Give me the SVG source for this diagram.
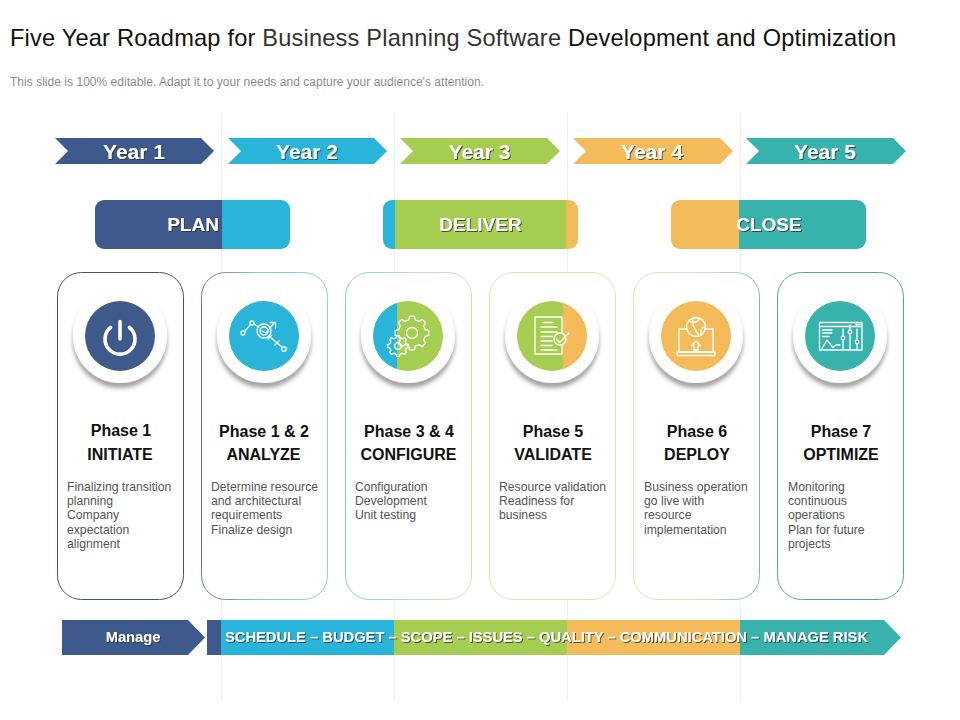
<svg xmlns="http://www.w3.org/2000/svg" xmlns:xlink="http://www.w3.org/1999/xlink" width="960" height="720" viewBox="0 0 960 720">
<style>
text{font-family:"Liberation Sans",Arial,sans-serif}
.title{font-size:23.6px;fill:#111}
.sub{font-size:12px;fill:#8c8c8c}
.yr{font-size:21px;font-weight:700;fill:#fff;text-anchor:middle;filter:url(#ts)}
.band{font-size:19px;font-weight:700;fill:#fff;text-anchor:middle;filter:url(#ts)}
.strip{font-size:14.7px;font-weight:700;fill:#fff;filter:url(#ts)}
.ph{font-size:16px;font-weight:700;fill:#111;text-anchor:middle}
.body{font-size:12.2px;fill:#555}
.navy{fill:#3e5a8c}.blue{fill:#29b4d9}.green{fill:#a5cd52}.orange{fill:#f4bb5a}.teal{fill:#38b2ac}
.grid{stroke:#efefef;stroke-width:1;fill:none}
.card{fill:#fff;stroke-width:1}
.halo{fill:#fff;filter:url(#hs)}
.ic{fill:none;stroke:#fff;stroke-width:1.3;stroke-linecap:round;stroke-linejoin:round}
</style>
<defs>
<filter id="ts" x="-10%" y="-30%" width="120%" height="170%"><feDropShadow dx="1" dy="1" stdDeviation="0.6" flood-color="#333" flood-opacity="0.8"/></filter>
<filter id="hs" x="-30%" y="-30%" width="160%" height="160%"><feDropShadow dx="0" dy="5" stdDeviation="2" flood-color="#666" flood-opacity="0.6"/></filter>
<linearGradient id="b1"><stop offset="0" stop-color="#44546a"/><stop offset="1" stop-color="#44546a"/></linearGradient>
<linearGradient id="b2"><stop offset="0" stop-color="#5f7890"/><stop offset="0.45" stop-color="#8fc4d8"/><stop offset="1" stop-color="#8fd0e2"/></linearGradient>
<linearGradient id="b3"><stop offset="0" stop-color="#7fcbe0"/><stop offset="0.5" stop-color="#b8dccc"/><stop offset="1" stop-color="#d9dcae"/></linearGradient>
<linearGradient id="b4"><stop offset="0" stop-color="#dcdcb0"/><stop offset="1" stop-color="#efdcb4"/></linearGradient>
<linearGradient id="b5"><stop offset="0" stop-color="#efdcb4"/><stop offset="0.6" stop-color="#d8dcc0"/><stop offset="1" stop-color="#72bdb8"/></linearGradient>
<linearGradient id="b6"><stop offset="0" stop-color="#4fa8a3"/><stop offset="1" stop-color="#4fa8a3"/></linearGradient>
<clipPath id="cPlan"><rect x="95" y="200" width="195" height="49" rx="9"/></clipPath>
<clipPath id="cDeliver"><rect x="383" y="200" width="195" height="49" rx="9"/></clipPath>
<clipPath id="cClose"><rect x="671" y="200" width="195" height="49" rx="9"/></clipPath>
<clipPath id="c3"><circle cx="408" cy="336" r="35"/></clipPath>
<clipPath id="c4"><circle cx="552" cy="336" r="35"/></clipPath>
<path id="gear" d="M13.1-3.3L16.8-2.4L16.8 2.4L13.1 3.3L11.6 6.9L13.6 10.2L10.2 13.6L6.9 11.6L3.3 13.1L2.4 16.8L-2.4 16.8L-3.3 13.1L-6.9 11.6L-10.2 13.6L-13.6 10.2L-11.6 6.9L-13.1 3.3L-16.8 2.4L-16.8-2.4L-13.1-3.3L-11.6-6.9L-13.6-10.2L-10.2-13.6L-6.9-11.6L-3.3-13.1L-2.4-16.8L2.4-16.8L3.3-13.1L6.9-11.6L10.2-13.6L13.6-10.2L11.6-6.9Z"/>
</defs>
<rect width="960" height="720" fill="#fff"/>

<g id="connectors">
<path class="grid" d="M221.5 112V700M394.5 112V700M567.5 112V700M740.5 112V700"/>
</g>

<g id="header">
<text class="title" x="10" y="46" textLength="886" lengthAdjust="spacing">Five Year Roadmap for <tspan fill="#333">Business Planning Software</tspan> Development and Optimization</text>
<text class="sub" x="10" y="86" textLength="474" lengthAdjust="spacing">This slide is 100% editable. Adapt it to your needs and capture your audience's attention.</text>
</g>

<g id="year-1"><polygon class="navy" points="55,138 201,138 214,151 201,164 55,164 68,151"/><text class="yr" x="134" y="159">Year 1</text></g>
<g id="year-2"><polygon class="blue" points="228,138 374,138 387,151 374,164 228,164 241,151"/><text class="yr" x="307" y="159">Year 2</text></g>
<g id="year-3"><polygon class="green" points="400,138 547,138 560,151 547,164 400,164 413,151"/><text class="yr" x="479.5" y="159">Year 3</text></g>
<g id="year-4"><polygon class="orange" points="573,138 720,138 733,151 720,164 573,164 586,151"/><text class="yr" x="652" y="159">Year 4</text></g>
<g id="year-5"><polygon class="teal" points="746,138 893,138 906,151 893,164 746,164 759,151"/><text class="yr" x="825" y="159">Year 5</text></g>

<g id="band-plan"><g clip-path="url(#cPlan)"><rect class="navy" x="95" y="200" width="127" height="49"/><rect class="blue" x="222" y="200" width="68" height="49"/></g><text class="band" x="193" y="231">PLAN</text></g>
<g id="band-deliver"><g clip-path="url(#cDeliver)"><rect class="blue" x="383" y="200" width="12" height="49"/><rect class="green" x="395" y="200" width="171" height="49"/><rect class="orange" x="566" y="200" width="12" height="49"/></g><text class="band" x="480.5" y="231">DELIVER</text></g>
<g id="band-close"><g clip-path="url(#cClose)"><rect class="orange" x="671" y="200" width="68" height="49"/><rect class="teal" x="739" y="200" width="127" height="49"/></g><text class="band" x="769" y="231">CLOSE</text></g>

<g id="card-initiate">
<rect class="card" x="57.5" y="272.5" width="126" height="327" rx="24" stroke="url(#b1)"/>
<circle class="halo" cx="120" cy="336" r="47"/><circle class="navy" cx="120" cy="336" r="35"/>
<path d="M110.5 327.500A15 15 0 1 0 129.500 327.500M120 321.500V339" fill="none" stroke="#fff" stroke-width="3.6" stroke-linecap="round"/>
<text class="ph" x="121" y="436">Phase 1</text><text class="ph" x="120" y="460">INITIATE</text>
<text class="body"><tspan x="67" y="491">Finalizing transition</tspan><tspan x="67" y="505">planning</tspan><tspan x="67" y="519">Company</tspan><tspan x="67" y="534">expectation</tspan><tspan x="67" y="548">alignment</tspan></text>
</g>

<g id="card-analyze">
<rect class="card" x="201.5" y="272.5" width="126" height="327" rx="24" stroke="url(#b2)"/>
<circle class="halo" cx="264" cy="336" r="47"/><circle class="blue" cx="264" cy="336" r="35"/>
<g class="ic"><circle cx="243" cy="333" r="2"/><circle cx="252" cy="323" r="2"/><circle cx="264" cy="331" r="7"/><circle cx="264" cy="331" r="4"/><circle cx="284" cy="349" r="2.2"/>
<path d="M244.500 331.500L250.500 324.500M254 324L258 326.500M262 331L266 333L274 323M270 322.500H275.500V328M269.500 336.500L282.500 347.500M268 339L271.500 335.500M275 345L279 341"/></g>
<text class="ph" x="264" y="437">Phase 1 &amp; 2</text><text class="ph" x="263.500" y="460">ANALYZE</text>
<text class="body"><tspan x="211" y="491">Determine resource</tspan><tspan x="211" y="505">and architectural</tspan><tspan x="211" y="519">requirements</tspan><tspan x="211" y="534">Finalize design</tspan></text>
</g>

<g id="card-configure">
<rect class="card" x="345.5" y="272.5" width="126" height="327" rx="24" stroke="url(#b3)"/>
<circle class="halo" cx="408" cy="336" r="47"/>
<g clip-path="url(#c3)"><rect class="blue" x="373" y="301" width="24" height="70"/><rect class="green" x="397" y="301" width="46" height="70"/></g>
<g class="ic"><use href="#gear" transform="translate(412 333)"/><circle cx="412" cy="333" r="5.500"/><use href="#gear" transform="translate(398 346) scale(.62)" stroke-width="2.1"/><circle cx="398" cy="346" r="3.300"/></g>
<text class="ph" x="409" y="437">Phase 3 &amp; 4</text><text class="ph" x="408.500" y="460">CONFIGURE</text>
<text class="body"><tspan x="355" y="491">Configuration</tspan><tspan x="355" y="505">Development</tspan><tspan x="355" y="519">Unit testing</tspan></text>
</g>

<g id="card-validate">
<rect class="card" x="489.5" y="272.5" width="126" height="327" rx="24" stroke="url(#b4)"/>
<circle class="halo" cx="552" cy="336" r="47"/>
<g clip-path="url(#c4)"><rect class="green" x="517" y="301" width="46" height="70"/><rect class="orange" x="563" y="301" width="25" height="70"/></g>
<g class="ic"><path d="M562 332V317H535V354H562V345.500"/><path d="M543 322.500H553M541 327H557M541 332H557M541 336.500H553M541 341H552M541 345.500H552M541 350H557"/><circle cx="560" cy="339" r="6"/><path d="M556.500 339L559.500 342.500L569 333"/></g>
<text class="ph" x="553" y="437">Phase 5</text><text class="ph" x="553" y="460">VALIDATE</text>
<text class="body"><tspan x="499" y="491">Resource validation</tspan><tspan x="499" y="505">Readiness for</tspan><tspan x="499" y="519">business</tspan></text>
</g>

<g id="card-deploy">
<rect class="card" x="633.5" y="272.5" width="126" height="327" rx="24" stroke="url(#b5)"/>
<circle class="halo" cx="696" cy="336" r="47"/><circle class="orange" cx="696" cy="336" r="35"/>
<g class="ic"><path d="M687 329H679V352H713V329H705"/><rect x="677" y="352" width="38" height="3.500"/><circle cx="696" cy="327" r="9.500"/><path d="M689 321C694 324 698 321 700 318.500M693 318C691 325 696 330 699 336M705 327C702 327 700 330 701 335"/><path d="M696 341L691.500 345.500H693.800V350H698.200V345.500H700.500Z"/></g>
<text class="ph" x="697" y="437">Phase 6</text><text class="ph" x="697" y="460">DEPLOY</text>
<text class="body"><tspan x="644" y="491">Business operation</tspan><tspan x="644" y="505">go live with</tspan><tspan x="644" y="519">resource</tspan><tspan x="644" y="534">implementation</tspan></text>
</g>

<g id="card-optimize">
<rect class="card" x="777.5" y="272.5" width="126" height="327" rx="24" stroke="url(#b6)"/>
<circle class="halo" cx="840" cy="336" r="47"/><circle class="teal" cx="840" cy="336" r="35"/>
<g class="ic"><rect x="819.500" y="322.500" width="42.500" height="27.500"/><path d="M819.500 326.500H862M856 324.500H860M822.500 330H832M822.500 333H832M822.500 336.500H829M822 348.500L827 340L833 347.500L836 345H840M843 329V349M850 325V349M857 329V349"/><circle cx="843" cy="338" r="1.800" fill="#38b2ac"/><circle cx="850" cy="332" r="1.800" fill="#38b2ac"/><circle cx="857" cy="342" r="1.800" fill="#38b2ac"/></g>
<text class="ph" x="841" y="437">Phase 7</text><text class="ph" x="841" y="460">OPTIMIZE</text>
<text class="body"><tspan x="788" y="491">Monitoring</tspan><tspan x="788" y="505">continuous</tspan><tspan x="788" y="519">operations</tspan><tspan x="788" y="534">Plan for future</tspan><tspan x="788" y="548">projects</tspan></text>
</g>

<g id="manage"><polygon class="navy" points="62,620 188,620 205,637.500 188,655 62,655"/><text class="strip" x="133" y="642" text-anchor="middle">Manage</text></g>
<g id="manage-strip">
<rect class="navy" x="207" y="620" width="14.500" height="35"/><rect class="blue" x="221" y="620" width="173.500" height="35"/><rect class="green" x="394" y="620" width="173.500" height="35"/><rect class="orange" x="567" y="620" width="173.500" height="35"/>
<polygon class="teal" points="740,620 884,620 901,637.500 884,655 740,655"/>
<text class="strip" x="225" y="642" textLength="643" lengthAdjust="spacing">SCHEDULE – BUDGET – SCOPE – ISSUES – QUALITY – COMMUNICATION – MANAGE RISK</text>
</g>
</svg>
